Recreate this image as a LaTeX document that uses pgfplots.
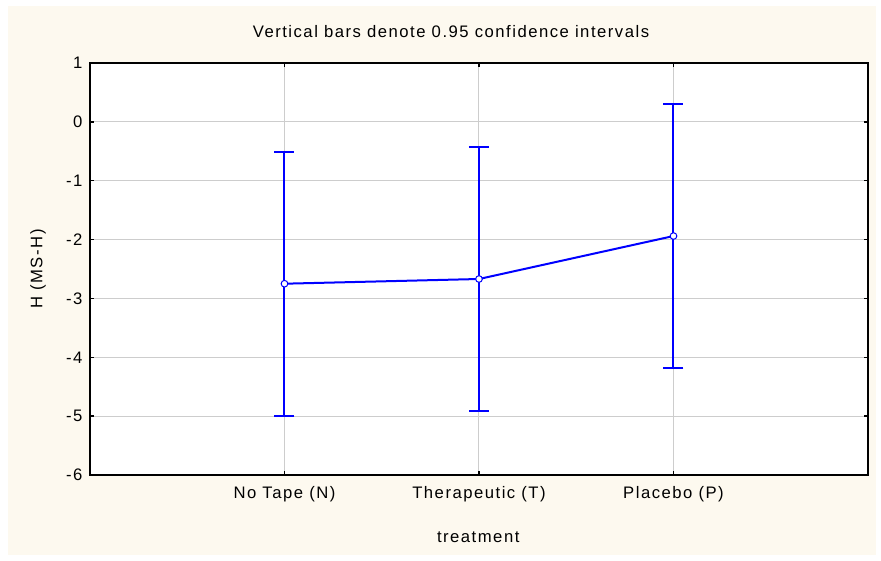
\documentclass[border=0pt]{standalone}
\usepackage{pgfplots}
\pgfplotsset{compat=1.18}
\usepackage{fontspec}
\setmainfont{Liberation Sans}[LetterSpace=9]
\definecolor{bgcream}{RGB}{253,249,239}
\definecolor{gridgray}{RGB}{205,205,205}
\definecolor{lineblue}{RGB}{0,0,255}

\begin{document}
\begin{tikzpicture}
% page 881 x 561 px at 0.6pt per px, origin bottom left
\fill[white] (0pt,0pt) rectangle (528.6pt,336.6pt);
\fill[bgcream] (4.8pt,3.6pt) rectangle (525.6pt,333pt);
\begin{axis}[
    at={(54pt,51.6pt)}, anchor=south west,
    scale only axis,
    width=466.8pt, height=247.2pt,
    xmin=0, xmax=4,
    ymin=-6, ymax=1,
    xtick={1,2,3},
    xticklabels={No Tape (N),Therapeutic (T),Placebo (P)},
    ytick={-6,-5,-4,-3,-2,-1,0,1},
    /pgf/number format/assume math mode=true,
    tick label style={font=\fontsize{10}{12}\selectfont},
    xticklabel style={yshift=-3.5pt},
    yticklabel style={xshift=-1pt},
    tick align=inside,
    major tick length=2.5pt,
    tick style={black, line width=0.8pt},
    axis line style={black, line width=1.5pt},
    axis background/.style={fill=white},
    grid=major,
    grid style={gridgray, line width=0.6pt},
    title={Vertical bars denote 0.95 confidence intervals},
    title style={at={(0.464,1.053)}, anchor=center, font=\fontsize{10}{12}\selectfont},
    xlabel={treatment},
    xlabel style={at={(0.499,-0.15)}, anchor=center, font=\fontsize{10}{12}\selectfont},
    ylabel={H (MS-H)},
    ylabel style={at={(-0.0668,0.5)}, anchor=center, font=\fontsize{10}{12}\selectfont},
    clip=false,
]
\addplot[
    lineblue, line width=1.2pt,
    mark=*, mark size=2pt,
    mark options={fill=white, draw=lineblue, line width=0.6pt},
    error bars/.cd,
        y dir=both, y explicit,
        error bar style={lineblue, line width=1.2pt},
        error mark options={rotate=90, mark size=6pt, lineblue, line width=1.2pt},
] coordinates {
    (1,-2.75) +- (0,2.24)
    (2,-2.67) +- (0,2.24)
    (3,-1.94) +- (0,2.24)
};
\end{axis}
\end{tikzpicture}
\end{document}
